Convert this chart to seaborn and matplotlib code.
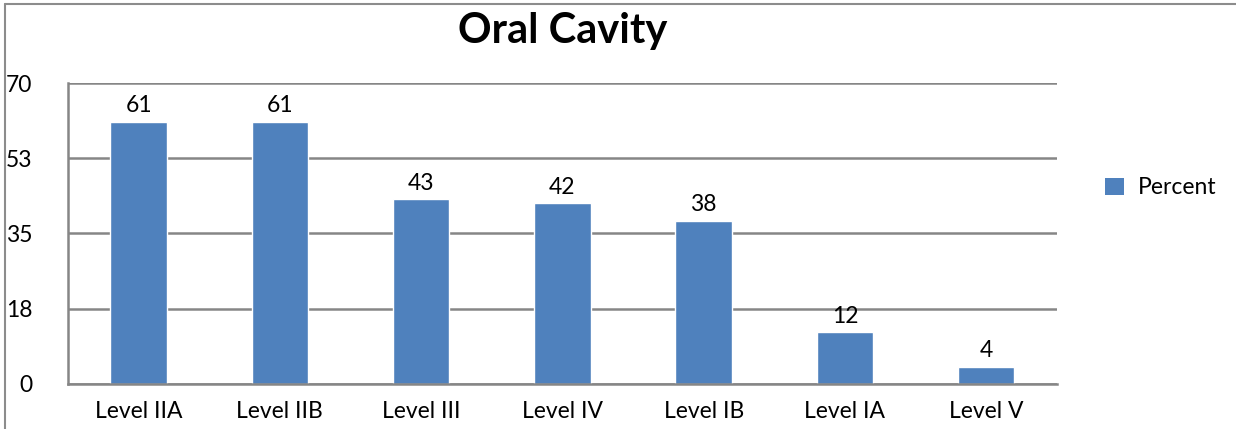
import pandas as pd
import matplotlib
matplotlib.use("Agg")
import matplotlib.pyplot as plt
import seaborn as sns
from matplotlib.lines import Line2D
from matplotlib.patches import Patch

# ========== data ==========
levels = ["Level IIA", "Level IIB", "Level III", "Level IV", "Level IB", "Level IA", "Level V"]
percent = [61, 61, 43, 42, 38, 12, 4]
y_ticks = [0, 17.5, 35, 52.5, 70]
y_tick_labels = ["0", "18", "35", "53", "70"]

df = pd.DataFrame({"level": levels, "percent": percent})

sns.set_style("white")
plt.rcParams["font.family"] = ["Lato", "DejaVu Sans"]
plt.rcParams["text.color"] = "black"
plt.rcParams["xtick.labelcolor"] = "black"
plt.rcParams["ytick.labelcolor"] = "black"

bar_color = "#4F81BD"
grid_color = "#868686"
fs = 16.5

fig = plt.figure(figsize=(12.36, 4.29), dpi=100)
ax = fig.add_axes([0.055, 0.105, 0.80, 0.7015])

sns.barplot(data=df, x="level", y="percent", color=bar_color, width=0.4,
            saturation=1, ax=ax, label="Percent")

ax.set_ylim(0, 70)
ax.set_xlim(-0.5, len(levels) - 0.5)
ax.set_yticks(y_ticks, y_tick_labels)
ax.yaxis.grid(True, color=grid_color, lw=1.8)
ax.set_axisbelow(True)
ax.tick_params(axis="y", direction="out", length=4.5, width=1.8, color=grid_color,
               pad=21, labelsize=fs, labelcolor="black")
ax.tick_params(axis="x", which="major", length=0, pad=12, labelsize=fs, labelcolor="black")
ax.set_xticks([i - 0.5 for i in range(len(levels) + 1)], minor=True)
ax.tick_params(axis="x", which="minor", direction="out", length=6, width=1.8, color=grid_color)
ax.set_xlabel("")
ax.set_ylabel("")

for side in ["top", "right"]:
    ax.spines[side].set_visible(False)
for side in ["left", "bottom"]:
    ax.spines[side].set_color(grid_color)
    ax.spines[side].set_linewidth(1.8)

for c in ax.containers:
    ax.bar_label(c, fmt="%d", padding=4, fontsize=fs, color="black")

ax.set_title("Oral Cavity", fontsize=30, fontweight="bold", pad=29, color="black")

handles = [Patch(facecolor=bar_color, edgecolor="none", label="Percent")]
ax.legend(handles=handles, loc="center left", bbox_to_anchor=(1.04, 0.652),
          frameon=False, fontsize=fs, handlelength=0.8, handleheight=0.8,
          handletextpad=0.6, borderaxespad=0, labelcolor="black")

# outer chart border (left and top visible)
fig.add_artist(Line2D([0.004, 0.004], [0, 0.99], transform=fig.transFigure,
                      color="#8c8c8c", lw=1.5))
fig.add_artist(Line2D([0.004, 1], [0.99, 0.99], transform=fig.transFigure,
                      color="#8c8c8c", lw=1.5))

plt.savefig("out.png", dpi=100)
plt.close()
